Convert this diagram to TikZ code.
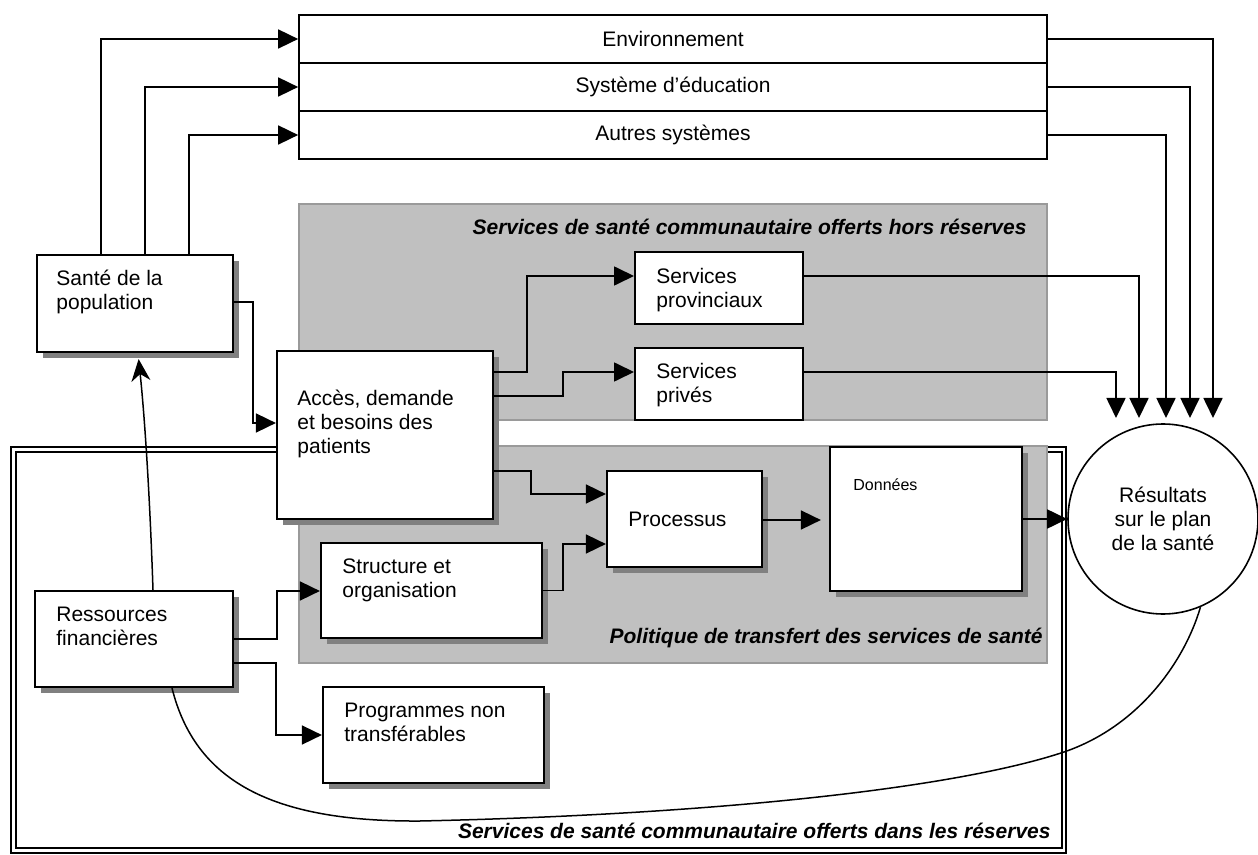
\documentclass[tikz,border=0pt]{standalone}
\usepackage{fontspec}
\setmainfont{Liberation Sans}
\usetikzlibrary{arrows.meta,shadows,calc}
\definecolor{shgray}{HTML}{808080}
\definecolor{regfill}{HTML}{C0C0C0}
\definecolor{regdraw}{HTML}{9A9A9A}
\begin{document}
\begin{tikzpicture}[x=0.5pt,y=-0.5pt,
  every node/.style={font=\fontsize{10.5}{12}\selectfont},
  box/.style={draw, line width=1.1pt, fill=white, rectangle, inner sep=0pt},
  shbox/.style={box, drop shadow={shadow xshift=3pt, shadow yshift=-3pt, fill=shgray, opacity=1}},
  plainbox/.style={box, line width=1pt},
  topbox/.style={draw, line width=0.85pt, fill=white, minimum width=374pt, minimum height=24pt, inner sep=0pt},
  txt/.style={anchor=north west, inner sep=0pt, align=left},
  region/.style={fill=regfill, draw=regdraw, line width=1pt},
  title/.style={font=\fontsize{10.5}{12}\selectfont\bfseries\itshape, anchor=base east, inner sep=0pt},
  arr/.style={line width=0.85pt, -{Triangle[length=10pt,width=9.5pt]}},
  curv/.style={line width=0.75pt},
]
\useasboundingbox (0,0) rectangle (1258,855);

% outer double border
\draw[line width=1pt, double=white, double distance=1.1pt] (13.5,449.5) rectangle (1064,850.5);

% top boxes
\node[topbox] (env) at (673,39) {Environnement};
\node[topbox] (edu) at (673,87) {Système d’éducation};
\node[topbox] (aut) at (673,135) {Autres systèmes};

% grey regions
\draw[region] (299,204) rectangle (1047,420);
\draw[region] (299,446) rectangle (1047,663);

% titles
\node[title] (tHors) at (1027,235) {Services de santé communautaire offerts hors réserves};
\node[title] (tPol) at (1043,643) {Politique de transfert des services de santé};
\node[title] (tDans) at (1051,838) {Services de santé communautaire offerts dans les réserves};

% boxes
\node[shbox, minimum width=98pt, minimum height=48.5pt] (sante) at (135,303.5) {};
\node[shbox, minimum width=108pt, minimum height=84pt] (acces) at (385,435) {};
\node[plainbox, minimum width=84pt, minimum height=36pt] (prov) at (719,288) {};
\node[plainbox, minimum width=84pt, minimum height=36pt] (prive) at (719,384) {};
\node[shbox, minimum width=77.5pt, minimum height=48pt] (proc) at (684.5,519) {};
\node[shbox, minimum width=96pt, minimum height=72pt] (donnees) at (926,519) {};
\node[shbox, minimum width=110.5pt, minimum height=47.5pt] (struct) at (431.5,590.5) {};
\node[shbox, minimum width=99pt, minimum height=48pt] (ress) at (134,639) {};
\node[shbox, minimum width=110.5pt, minimum height=48pt] (prog) at (433.5,735) {};
\node[circle, draw, line width=0.8pt, fill=white, minimum size=95pt, inner sep=0pt, align=center] (res) at (1163,519) {Résultats\\sur le plan\\de la santé};

% box texts
\node[txt] (santeT) at (56,270) {Santé de la\\population};
\node[txt] (accesT) at (297,390) {Accès, demande\\et besoins des\\patients};
\node[txt] (provT) at (656,268) {Services\\provinciaux};
\node[txt] (priveT) at (656,363) {Services\\privés};
\node[txt] (procT) at (628,512) {Processus};
\node[txt, font=\fontsize{8}{9.6}\selectfont] (donT) at (853,478) {Données};
\node[txt] (structT) at (342,558) {Structure et\\organisation};
\node[txt] (ressT) at (56,607) {Ressources\\financières};
\node[txt] (progT) at (344,703) {Programmes non\\transférables};

% arrow end points above the circle
\coordinate (e1) at (1213,418);
\coordinate (e2) at (1190,418);
\coordinate (e3) at (1166,418);
\coordinate (e4) at (1139,418);
\coordinate (e5) at (1116,418);

% left connectors
\draw[arr] (sante.north -| 101,0) |- (env.west);
\draw[arr] (sante.north -| 145,0) |- (edu.west);
\draw[arr] (sante.north -| 189,0) |- (aut.west);

% right connectors
\draw[arr] (env.east) -| (e1);
\draw[arr] (edu.east) -| (e2);
\draw[arr] (aut.east) -| (e3);
\draw[arr] (prov.east |- 0,276) -| (e4);
\draw[arr] (prive.east |- 0,372) -| (e5);

% inner connectors
\draw[arr] (sante.east |- 0,302) -| (253,423) -- (acces.west |- 0,423);
\draw[arr] (acces.east |- 0,372) -| (527,276) -- (prov.west |- 0,276);
\draw[arr] (acces.east |- 0,396) -| (563,372) -- (prive.west |- 0,372);
\draw[arr] (acces.east |- 0,471) -| (531,494) -- (proc.west |- 0,494);
\draw[arr] (struct.east) -| (563,544) -- (proc.west |- 0,544);
\draw[arr, shorten >=4pt] (proc.east |- 0,520) -- (donnees.west |- 0,520);
\draw[arr] (donnees.east) -- (res.west);
\draw[arr] (ress.east) -| (277,591) -- (struct.west |- 0,591);
\draw[arr] (ress.east |- 0,663) -| (276,735) -- (prog.west);

% curves
\draw[curv, -{Stealth[length=11pt,width=9.5pt,inset=3.5pt]}, shorten >=3pt] (ress.north -| 153,0) .. controls (150,500) and (145,420) .. (sante.south -| 138,0);
\draw[curv] (ress.south -| 172,0) .. controls (195,780) and (270,822) .. (420,821) .. controls (700,815) and (950,790) .. (1064,752) .. controls (1140,726) and (1185,660) .. (res.-67);
\end{tikzpicture}
\end{document}
